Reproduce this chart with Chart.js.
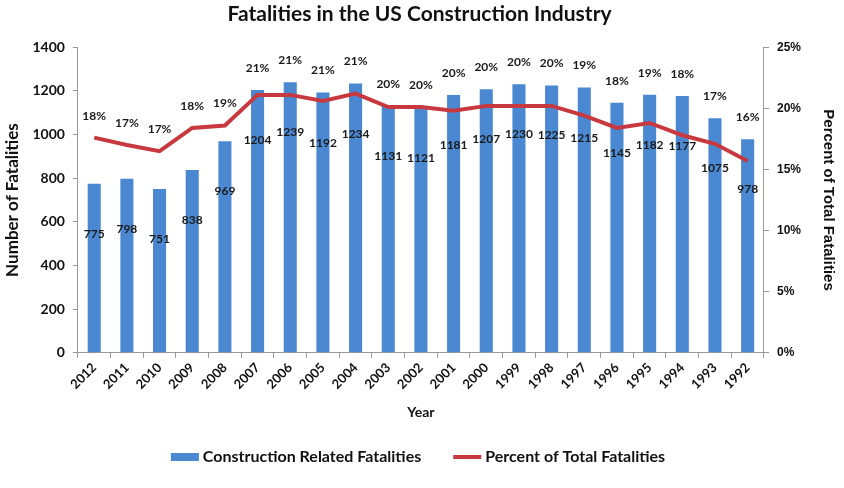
<!DOCTYPE html>
<html><head><meta charset="utf-8">
<script src="https://cdn.jsdelivr.net/npm/chart.js@4/dist/chart.umd.min.js"></script>
<style>html,body{margin:0;padding:0;background:#fff}#wrap{width:844px;height:488px}</style>
</head><body><div id="wrap"><canvas id="c" width="844" height="488"></canvas></div>
<script>
const years = ['2012','2011','2010','2009','2008','2007','2006','2005','2004','2003','2002','2001','2000','1999','1998','1997','1996','1995','1994','1993','1992'];
const fatalities = [775,798,751,838,969,1204,1239,1192,1234,1131,1121,1181,1207,1230,1225,1215,1145,1182,1177,1075,978];
const percentTotal = [17.6,17.0,16.5,18.4,18.6,21.1,21.1,20.6,21.2,20.1,20.1,19.8,20.2,20.2,20.2,19.4,18.4,18.8,17.8,17.1,15.7];
const percentLabels = ['18%','17%','17%','18%','19%','21%','21%','21%','21%','20%','20%','20%','20%','20%','20%','19%','18%','19%','18%','17%','16%'];
const leftTicks = [0,200,400,600,800,1000,1200,1400];
const rightTicks = [0,5,10,15,20,25];

const FONT = 'Lato, "Open Sans", sans-serif';
const ARIAL = '"Liberation Sans", Arial, sans-serif';
const BLUE = '#4a88d2';
const RED = '#c8383f';

const labelPlugin = {
  id: 'labels',
  afterDatasetsDraw(chart) {
    const ctx = chart.ctx;
    const y = chart.scales.y;
    const barMeta = chart.getDatasetMeta(0), lineMeta = chart.getDatasetMeta(1);
    ctx.save();
    ctx.font = 'bold 12px ' + FONT;
    ctx.fillStyle = '#1a1a1a';
    ctx.textAlign = 'center';
    ctx.textBaseline = 'middle';
    fatalities.forEach((v, i) => {
      const x = barMeta.data[i].x;
      ctx.fillText(String(v), x, y.getPixelForValue(v - 230));
    });
    percentTotal.forEach((v, i) => {
      const x = lineMeta.data[i].x;
      const top = Math.min(lineMeta.data[i].y, barMeta.data[i].y);
      ctx.fillText(percentLabels[i], x, top - 22);
    });
    ctx.restore();
  }
};

// custom bottom legend (wide item spacing as in the original)
const legendPlugin = {
  id: 'customLegend',
  afterDraw(chart) {
    const ctx = chart.ctx;
    const ds = chart.data.datasets;
    const boxW = 28, gapText = 4, gapItems = 32;
    ctx.save();
    ctx.font = 'bold 16px ' + FONT;
    ctx.textBaseline = 'middle';
    ctx.textAlign = 'left';
    const widths = ds.map(d => boxW + gapText + ctx.measureText(d.label).width);
    const total = widths.reduce((a, b) => a + b, 0) + gapItems * (ds.length - 1);
    let x = (chart.width - total) / 2 - 4;
    const yc = chart.height - 31;
    ds.forEach((d, i) => {
      if (d.type === 'line') {
        ctx.fillStyle = d.borderColor;
        ctx.fillRect(x, yc - 2, boxW, 4);
      } else {
        ctx.fillStyle = d.backgroundColor;
        ctx.fillRect(x, yc - 4, boxW, 8);
      }
      ctx.fillStyle = '#111';
      ctx.fillText(d.label, x + boxW + gapText, yc);
      x += widths[i] + gapItems;
    });
    ctx.restore();
  }
};

new Chart(document.getElementById('c'), {
  data: {
    labels: years,
    datasets: [
      { type: 'bar', label: 'Construction Related Fatalities', data: fatalities, backgroundColor: BLUE,
        yAxisID: 'y', barPercentage: 0.4, categoryPercentage: 1.0, order: 2 },
      { type: 'line', label: 'Percent of Total Fatalities', data: percentTotal, borderColor: RED, backgroundColor: RED,
        borderWidth: 4, pointRadius: 0, tension: 0, yAxisID: 'y1', order: 1 }
    ]
  },
  options: {
    responsive: false,
    animation: false,
    devicePixelRatio: 1,
    layout: { padding: { left: 2, right: 7, top: 0, bottom: 65 } },
    plugins: {
      title: { display: true, text: 'Fatalities in the US Construction Industry', color: '#111',
        font: { family: FONT, size: 21, weight: 'bold' }, padding: { top: 2, bottom: 20 } },
      legend: { display: false },
      tooltip: { enabled: false }
    },
    scales: {
      x: {
        grid: { display: true, drawOnChartArea: false, offset: true, tickLength: 5, color: '#999' },
        border: { color: '#999' },
        ticks: { color: '#111', maxRotation: 45, minRotation: 45, font: { family: FONT, size: 13, weight: 'bold' }, padding: 2 },
        title: { display: true, text: 'Year', color: '#111', font: { family: FONT, size: 14, weight: 'bold' }, padding: { top: 10, bottom: 2 } }
      },
      y: {
        position: 'left', min: 0, max: 1400,
        afterBuildTicks: s => { s.ticks = leftTicks.map(v => ({ value: v })); },
        grid: { display: true, drawOnChartArea: false, tickLength: 5, color: '#999' },
        border: { color: '#999' },
        ticks: { color: '#111', font: { family: FONT, size: 14, weight: 'bold' }, padding: 8, callback: v => String(v) },
        title: { display: true, text: 'Number of Fatalities', color: '#111', font: { family: FONT, size: 17, weight: 'bold' }, padding: { top: 0, bottom: 2 } }
      },
      y1: {
        position: 'right', min: 0, max: 25,
        afterBuildTicks: s => { s.ticks = rightTicks.map(v => ({ value: v })); },
        grid: { display: true, drawOnChartArea: false, tickLength: 5, color: '#999' },
        border: { color: '#999' },
        ticks: { color: '#111', font: { family: ARIAL, size: 12, weight: 'bold' }, padding: 8, callback: v => v + '%' },
        title: { display: true, text: 'Percent of Total Fatalities', color: '#111', font: { family: ARIAL, size: 15, weight: 'bold' }, padding: { top: 0, bottom: 10 } }
      }
    }
  },
  plugins: [labelPlugin, legendPlugin]
});
</script></body></html>
